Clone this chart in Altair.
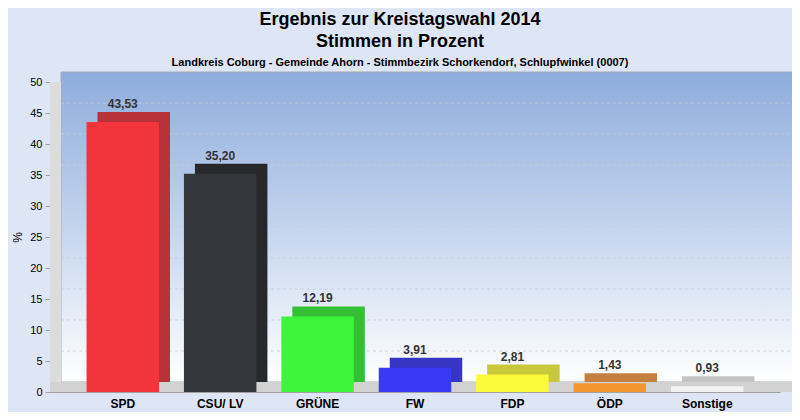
import altair as alt
import pandas as pd

parties = ["SPD", "CSU/ LV", "GRÜNE", "FW", "FDP", "ÖDP", "Sonstige"]
values = [43.53, 35.20, 12.19, 3.91, 2.81, 1.43, 0.93]
front_colors = ["#f2343c", "#33363b", "#3cf53c", "#3a3af6", "#fafa3a", "#f5952f", "#f2f2f2"]
side_colors = ["#b8323a", "#26282c", "#34c034", "#3636c2", "#c8c83a", "#c4803e", "#c4c4c4"]
tick_values = [0, 5, 10, 15, 20, 25, 30, 35, 40, 45, 50]
grid_values = [5, 10, 15, 20, 25, 30, 35, 40, 45]

W, H = 730, 310
DX, DY = 11, -10

df = pd.DataFrame({"party": parties, "value": values})
grid_df = pd.DataFrame({"value": grid_values})
one = pd.DataFrame({"a": [0]})

FONT = "Liberation Sans, Arial, sans-serif"

xenc = alt.X(
    "party:N", sort=parties,
    scale=alt.Scale(paddingInner=0.256, paddingOuter=0.375),
    axis=alt.Axis(title=None, labelAngle=0, ticks=False, domainColor="#a0a0a0",
                  labelFont=FONT, labelFontWeight="bold", labelFontSize=12,
                  labelColor="#000000", labelPadding=6, zindex=1),
)
yenc = alt.Y(
    "value:Q",
    scale=alt.Scale(domain=[0, 50], nice=False, zero=True),
    axis=alt.Axis(values=tick_values, title="%", grid=False, domainColor="#a0a0a0",
                  tickColor="#a0a0a0", tickSize=5, labelFont=FONT, labelFontSize=11,
                  labelColor="#000000", labelPadding=3, titleFont=FONT, titleFontSize=12,
                  titleFontWeight="normal", titleColor="#000000", titlePadding=5),
)
color_front = alt.Color("party:N", scale=alt.Scale(domain=parties, range=front_colors), legend=None)
color_side = alt.Color("party:N", scale=alt.Scale(domain=parties, range=side_colors), legend=None)

back_wall = alt.Chart(one).mark_rect(
    color=alt.LinearGradient(
        gradient="linear", x1=0, y1=0, x2=0, y2=1,
        stops=[alt.GradientStop(color="#8eaddc", offset=0),
               alt.GradientStop(color="#c4d4ee", offset=0.5),
               alt.GradientStop(color="#ffffff", offset=1)]),
    stroke="#a4acbc", strokeWidth=1,
).encode(x=alt.value(DX), x2=alt.value(W + 13), y=alt.value(DY), y2=alt.value(H + DY))

left_wall = alt.Chart(one).mark_rect(color="#dcdcdc").encode(
    x=alt.value(0), x2=alt.value(DX), y=alt.value(0), y2=alt.value(H))

floor = alt.Chart(one).mark_rect(color="#d2d2d2").encode(
    x=alt.value(0), x2=alt.value(W + 13), y=alt.value(H + DY), y2=alt.value(H))

grid = alt.Chart(grid_df).mark_rule(
    color="#c8ccd4", strokeDash=[3, 3], strokeWidth=1, yOffset=DY, opacity=0.8
).encode(y=yenc, x=alt.value(DX), x2=alt.value(W + 13))

side = alt.Chart(df).mark_bar(xOffset=DX, yOffset=DY).encode(
    x=xenc, y=yenc, color=color_side)

front = alt.Chart(df).mark_bar().encode(x=xenc, y=yenc, color=color_front)

labels = alt.Chart(df).transform_calculate(
    label="replace(format(datum.value, '.2f'), '.', ',')"
).mark_text(font=FONT, fontSize=12, fontWeight="bold", color="#333333",
            baseline="middle", dy=-18).encode(x=xenc, y=yenc, text="label:N")

chart = alt.layer(back_wall, left_wall, floor, grid, side, front, labels).resolve_scale(
    color="independent"
).properties(
    width=W, height=H,
    autosize="none",
    padding={"left": 42, "top": 74, "right": 12, "bottom": 20},
    title=alt.TitleParams(
        text=["Ergebnis zur Kreistagswahl 2014", "Stimmen in Prozent"],
        subtitle="Landkreis Coburg - Gemeinde Ahorn - Stimmbezirk Schorkendorf, Schlupfwinkel (0007)",
        font=FONT, fontSize=18, fontWeight="bold", lineHeight=22, color="#000000",
        subtitleFont=FONT, subtitleFontSize=11, subtitleFontWeight="bold",
        subtitleColor="#000000", subtitlePadding=6, anchor="middle", offset=4, dx=-15,
    ),
).configure(background="#dee5f4").configure_view(stroke=None)

chart.save("out.html", embed_options={"renderer": "svg", "actions": False})
